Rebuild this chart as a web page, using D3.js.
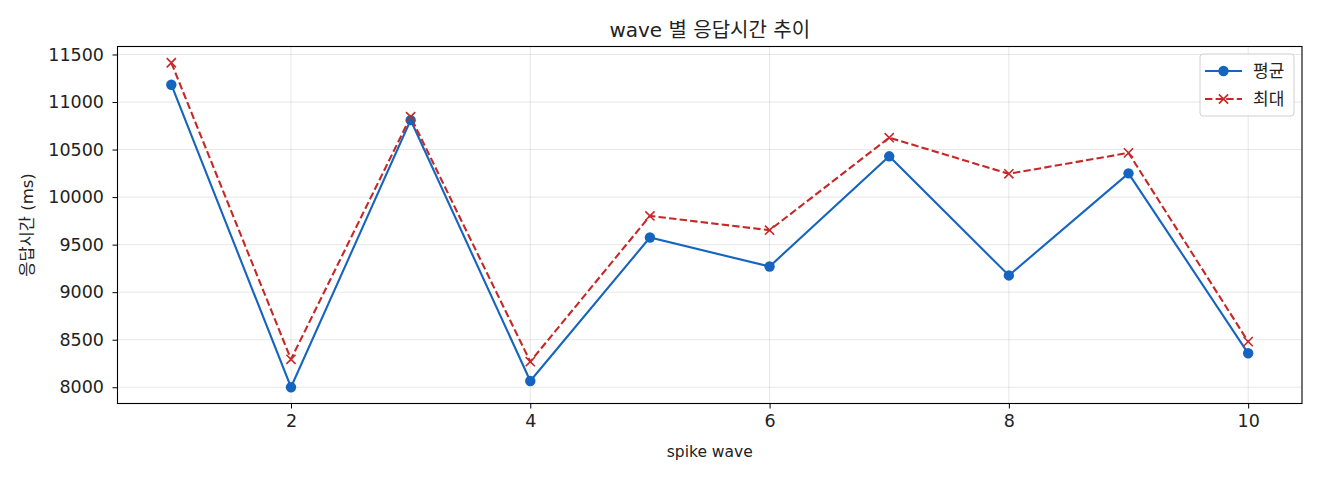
<!DOCTYPE html>
<html><head><meta charset="utf-8">
<script src="https://cdn.jsdelivr.net/npm/d3@7"></script>
<style>
body{margin:0;background:#fff;}
text{font-family:"DejaVu Sans","Noto Sans CJK KR",sans-serif;fill:#222;}
</style></head>
<body><svg id="c" width="1320" height="480"></svg>
<script>
const waves = [1,2,3,4,5,6,7,8,9,10];
const avgValues = [11182,8000,10810,8066,9575,9270,10429,9176,10250,8357];
const maxValues = [11413,8294,10845,8269,9802,9652,10625,10245,10465,8480];
const xTicks = [2,4,6,8,10];
const yTicks = [8000,8500,9000,9500,10000,10500,11000,11500];
const seriesNames = ["평균","최대"];
const titleText = "wave 별 응답시간 추이";
const xLabel = "spike wave";
const yLabel = "응답시간 (ms)";

const svg = d3.select("#c");
const L=117.5, R=1302, T=46.5, B=403.5;
const blue="#1565c0", red="#c62828";
const x = d3.scaleLinear().domain([0.55,10.45]).range([L,R]);
const y = d3.scaleLinear().domain([7829,11584]).range([B,T]);

// grid
const g = svg.append("g");
g.selectAll(".gx").data(xTicks).enter().append("line")
 .attr("x1",d=>x(d)).attr("x2",d=>x(d)).attr("y1",T).attr("y2",B)
 .attr("stroke","#b0b0b0").attr("stroke-opacity",0.3).attr("stroke-width",1);
g.selectAll(".gy").data(yTicks).enter().append("line")
 .attr("y1",d=>y(d)).attr("y2",d=>y(d)).attr("x1",L).attr("x2",R)
 .attr("stroke","#b0b0b0").attr("stroke-opacity",0.3).attr("stroke-width",1);

// axes
const xa = svg.append("g").attr("transform",`translate(0,${B})`)
 .call(d3.axisBottom(x).tickValues(xTicks).tickSize(5).tickPadding(6).tickFormat(d3.format("d")));
const ya = svg.append("g").attr("transform",`translate(${L},0)`)
 .call(d3.axisLeft(y).tickValues(yTicks).tickSize(5).tickPadding(8.5).tickFormat(d=>String(d)));
[xa,ya].forEach(a=>{a.select(".domain").remove();a.selectAll("line").attr("stroke","#000").attr("stroke-width",1);
 a.selectAll("text").attr("font-size",17.5).attr("fill","#222").style("font-family",'"DejaVu Sans","Noto Sans CJK KR",sans-serif');});

// frame
svg.append("rect").attr("x",L).attr("y",T).attr("width",R-L).attr("height",B-T)
 .attr("fill","none").attr("stroke","#000").attr("stroke-width",1.1);

const line = d3.line().x((d,i)=>x(waves[i])).y(d=>y(d));
svg.append("path").datum(avgValues).attr("d",line).attr("fill","none")
 .attr("stroke",blue).attr("stroke-width",2.1);
svg.append("path").datum(maxValues).attr("d",line).attr("fill","none")
 .attr("stroke",red).attr("stroke-width",2.1).attr("stroke-dasharray","7.4,3.2");

svg.selectAll(".dot").data(avgValues).enter().append("circle")
 .attr("cx",(d,i)=>x(waves[i])).attr("cy",d=>y(d)).attr("r",5.2).attr("fill",blue);
const xm = (cx,cy,s)=>`M${cx-s},${cy-s}L${cx+s},${cy+s}M${cx-s},${cy+s}L${cx+s},${cy-s}`;
svg.selectAll(".xm").data(maxValues).enter().append("path")
 .attr("d",(d,i)=>xm(x(waves[i]),y(d),4.6)).attr("stroke",red).attr("stroke-width",1.6).attr("fill","none");

// title & labels
svg.append("text").attr("x",(L+R)/2).attr("y",36.5).attr("text-anchor","middle").attr("font-size",20).text(titleText);
svg.append("text").attr("x",(L+R)/2).attr("y",457).attr("text-anchor","middle").attr("font-size",15.5).text(xLabel);
svg.append("text").attr("transform",`translate(33,${(T+B)/2}) rotate(-90)`).attr("text-anchor","middle").attr("font-size",16.5).text(yLabel);

// legend
const lg = svg.append("g");
lg.append("rect").attr("x",1200).attr("y",54).attr("width",94).attr("height",62).attr("rx",3)
 .attr("fill","#fff").attr("fill-opacity",0.8).attr("stroke","#d0d0d0").attr("stroke-width",1);
const ly=[71,99];
lg.append("line").attr("x1",1205).attr("x2",1242).attr("y1",ly[0]).attr("y2",ly[0]).attr("stroke",blue).attr("stroke-width",2.1);
lg.append("circle").attr("cx",1223.5).attr("cy",ly[0]).attr("r",5.2).attr("fill",blue);
lg.append("line").attr("x1",1205).attr("x2",1242).attr("y1",ly[1]).attr("y2",ly[1]).attr("stroke",red).attr("stroke-width",2.1).attr("stroke-dasharray","7.4,3.2");
lg.append("path").attr("d",xm(1223.5,ly[1],4.6)).attr("stroke",red).attr("stroke-width",1.6);
seriesNames.forEach((n,i)=>lg.append("text").attr("x",1253).attr("y",ly[i]+6).attr("font-size",17).text(n));
</script></body></html>
